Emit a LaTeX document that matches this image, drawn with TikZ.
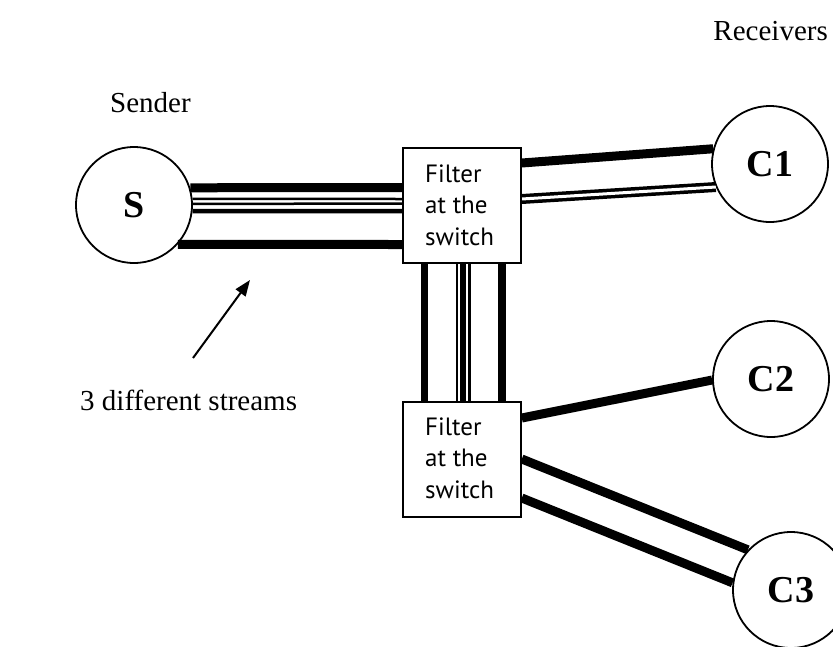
\documentclass[tikz,border=0pt]{standalone}
\usepackage{fontspec}
\setmainfont{Liberation Serif}
\newfontfamily\boxfont{PT Sans}
\usetikzlibrary{arrows.meta}
\begin{document}
\begin{tikzpicture}[x=1pt,y=-1pt,
  circ/.style={draw,line width=1.8pt,circle,minimum size=116pt,inner sep=0pt,font=\bfseries\fontsize{38}{38}\selectfont},
  filt/.style={draw,line width=1.6pt,minimum width=118pt,minimum height=115pt,inner sep=0pt},
  filtxt/.style={font=\boxfont\fontsize{25}{31.5}\selectfont,align=left,anchor=base west,inner sep=0pt},
  lbl/.style={font=\fontsize{29}{29}\selectfont,inner sep=0pt},
  sa/.style={line width=9pt},
  sb/.style={line width=15pt},
  sbw/.style={line width=10.5pt,white},
  sbc/.style={line width=6pt},
  thinl/.style={line width=2.5pt},
  dbl/.style={line width=10pt},
  dblw/.style={line width=3pt,white}]
\useasboundingbox (0,0) rectangle (833,646);
% nodes
\node[circ] (S) at (134,205) {S};
\node[circ] (C1) at (770,164) {C1};
\node[circ] (C2) at (771,379) {C2};
\node[circ] (C3) at (791,590) {C3};
\node[filt] (F1) at (462,205.5) {};
\node[filt] (F2) at (462,459.5) {};
\node[filtxt] (T1) at (425,245) {Filter\\at the\\switch};
\node[filtxt] (T2) at (425,498) {Filter\\at the\\switch};
\node[lbl,anchor=base west] (snd) at (110,112) {Sender};
\node[lbl,anchor=base east] (rcv) at (828,40) {Receivers};
\node[lbl,anchor=base west] (str) at (80,410) {3 different streams};
% S to filter 1
\coordinate (a1) at (F1.west |- 0,187.5);
\coordinate (c1) at (F1.west |- 0,244.5);
\coordinate (sa1) at (S.17.5);
\coordinate (sc1) at (S.-42.5);
\draw[sa] (sa1) -- (a1);
\draw[sa] (sc1) -- (c1);
\coordinate (b1s) at (S.6);
\coordinate (b1e) at (F1.west |- 0,199);
\coordinate (b2s) at (S.1.5);
\coordinate (b2e) at (F1.west |- 0,203.5);
\coordinate (b3s) at (S.-6);
\coordinate (b3e) at (F1.west |- 0,211);
\draw[thinl] (b1s) -- (b1e);
\draw[thinl] (b2s) -- (b2e);
\draw[line width=4.5pt] (b3s) -- (b3e);
% filter 1 to C1
\coordinate (f1a) at (F1.east |- 0,163);
\coordinate (f1b) at (F1.east |- 0,199);
\draw[sa] (f1a) -- (C1.165);
\draw[dbl] (f1b) -- (C1.203);
\draw[dblw] (f1b) -- (C1.203);
% filter 1 to filter 2
\coordinate (va1) at (F1.south -| 424.5,0);
\coordinate (va2) at (F2.north -| 424.5,0);
\coordinate (vb1) at (F1.south -| 463,0);
\coordinate (vb2) at (F2.north -| 463,0);
\coordinate (vc1) at (F1.south -| 502,0);
\coordinate (vc2) at (F2.north -| 502,0);
\draw[line width=7.5pt] (va1) -- (va2);
\draw[line width=7.5pt] (vc1) -- (vc2);
\draw[sb] (vb1) -- (vb2);
\draw[sbw] (vb1) -- (vb2);
\draw[sbc] (vb1) -- (vb2);
% filter 2 to C2, C3
\coordinate (f2a) at (F2.east |- 0,418);
\coordinate (f2b) at (F2.east |- 0,459);
\coordinate (f2c) at (F2.east |- 0,498);
\draw[sa] (f2a) -- (C2.181);
\draw[sa] (f2b) -- (C3.137);
\draw[sa] (f2c) -- (C3.173);
% redraw boxes on top
\node[filt] at (F1.center) {};
\node[filt] at (F2.center) {};
% arrow
\coordinate (arT) at (193,358);
\coordinate (arH) at (250,280);
\draw[line width=2pt,-{Triangle[length=16pt,width=12pt]}] (arT) -- (arH);
\end{tikzpicture}
\end{document}
